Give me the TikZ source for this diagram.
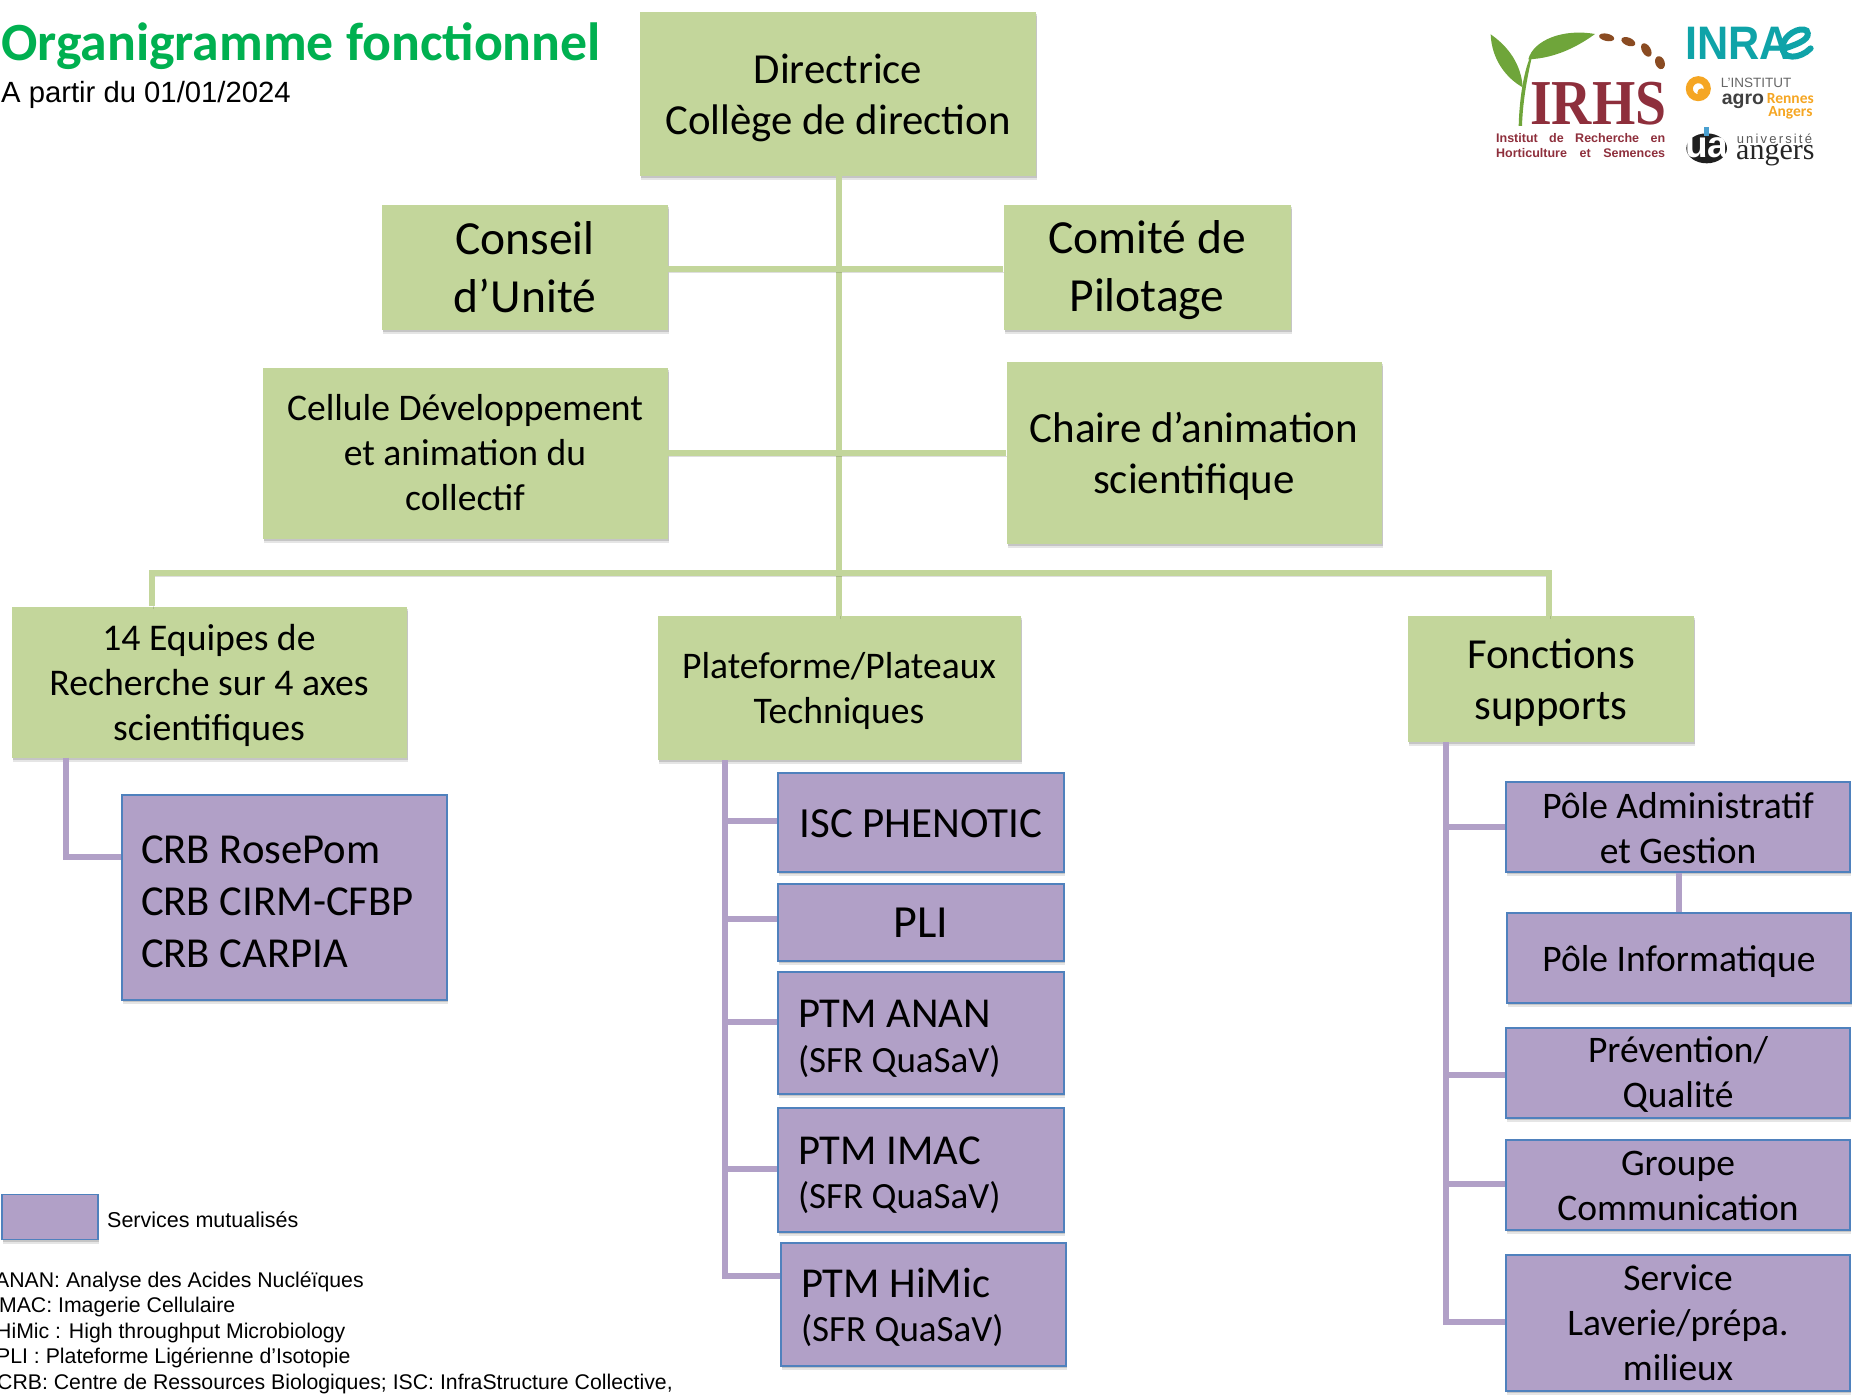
\documentclass[tikz,border=0pt]{standalone}
\usepackage{fontspec}
\setmainfont{Carlito}
\newfontfamily\arialf{Liberation Sans}
\newfontfamily\timesf{Liberation Serif}
\usetikzlibrary{shadows}
\definecolor{gfill}{HTML}{C3D69B}
\definecolor{pfill}{HTML}{B1A0C7}
\definecolor{pedge}{HTML}{4F81BD}
\definecolor{titleg}{HTML}{00B050}
\definecolor{maroon}{HTML}{8E2F3C}
\definecolor{leafg}{HTML}{6FA53A}
\definecolor{seed}{HTML}{8A4B22}
\definecolor{teal}{HTML}{0FA3A8}
\definecolor{agroo}{HTML}{F5A623}
\definecolor{uablue}{HTML}{4AA0D0}
\newcommand{\fs}[2]{\fontsize{#1}{#2}\selectfont}
\newcommand{\dn}[1]{\rule{0pt}{#1pt}}
\newcommand{\sm}[1]{{\fontsize{37}{44.5}\selectfont #1}}
\tikzset{
  x=1pt,y=-1pt,
  shd/.style={general shadow={shadow xshift=1pt,shadow yshift=-4pt,fill=black,opacity=.10},general shadow={shadow xshift=1pt,shadow yshift=-2pt,fill=black,opacity=.14}},
  lshd/.style={general shadow={shadow xshift=1pt,shadow yshift=-3pt,draw=black,fill=none,opacity=.13}},
  gbox/.style={shape=rectangle,fill=gfill,inner sep=0pt,align=center,shd},
  pbox/.style={shape=rectangle,fill=pfill,draw=pedge,line width=1.6pt,inner sep=0pt,align=center,shd},
  size/.style 2 args={minimum width=#1,minimum height=#2},
  gline/.style={draw=gfill,line width=6pt,lshd},
  pline/.style={draw=pfill,line width=6pt},
  lab/.style={anchor=west,inner sep=0pt,font=\arialf\fs{21.25}{26}},
}
\begin{document}
\begin{tikzpicture}
\useasboundingbox (0,0) rectangle (1855,1397);
\coordinate (bus) at (839,573);
\coordinate (busL) at (152,573);
\coordinate (busR) at (1549,573);
\coordinate (tA) at (839,269);
\coordinate (tB) at (839,453);
% green boxes
\node[gbox,size={396pt}{164pt},font=\fs{42.8}{51}] (dir) at (838,94) {\dn{37}Directrice\\Collège de direction};
\node[gbox,size={286pt}{125pt},font=\fs{47.5}{58}] (cons) at (525,267) {Conseil\\d’Unité};
\node[gbox,size={287pt}{125pt},font=\fs{47.5}{58}] (comi) at (1147,267) {\dn{39}Comité de\\Pilotage};
\node[gbox,size={405pt}{171pt},font=\fs{37.6}{45}] (cell) at (465,453) {Cellule Développement\\et animation du\\collectif};
\node[gbox,size={375pt}{182pt},font=\fs{43}{51}] (chai) at (1194,453) {\dn{37}Chaire d’animation\\scientifique};
\node[gbox,size={395pt}{151pt},font=\fs{37.7}{45}] (equi) at (209,682) {\dn{33}14 Equipes de\\Recherche sur 4 axes\\scientifiques};
\node[gbox,size={363pt}{144pt},font=\fs{37.6}{45}] (plat) at (839,688) {\dn{33}Plateforme/Plateaux\\Techniques};
\node[gbox,size={286pt}{126pt},font=\fs{42.8}{51}] (fonc) at (1551,679) {\dn{37}Fonctions\\supports};
% green connectors
\draw[gline] (dir.south -| bus) -- (plat.north -| bus);
\draw[gline] (cons.east |- tA) -- (comi.west |- tA);
\draw[gline] (cell.east |- tB) -- (chai.west |- tB);
\draw[gline] (busL |- equi.north) -- (busL) -- (busR) -- (busR |- fonc.north);
% purple boxes
\node[pbox,size={325pt}{205pt},text width=325pt,align=flush left,font=\fs{42.7}{52}] (crb) at (284.5,897.5) {\hspace*{19pt}\dn{36}CRB RosePom\\\hspace*{19pt}CRB CIRM-CFBP\\\hspace*{19pt}CRB CARPIA};
\node[pbox,size={286pt}{99pt},font=\fs{43}{50}] (isc) at (921,822.5) {\dn{30}ISC PHENOTIC};
\node[pbox,size={286pt}{77pt},font=\fs{46}{50}] (pli) at (921,922.5) {PLI};
\node[pbox,size={286pt}{122pt},text width=286pt,align=flush left,font=\fs{42.6}{44.5}] (anan) at (921,1033) {\hspace*{20pt}\dn{39}PTM ANAN\\\hspace*{20pt}\sm{(SFR QuaSaV)}};
\node[pbox,size={286pt}{124pt},text width=286pt,align=flush left,font=\fs{42.6}{44.5}] (imac) at (921,1170) {\hspace*{20pt}\dn{38}PTM IMAC\\\hspace*{20pt}\sm{(SFR QuaSaV)}};
\node[pbox,size={285pt}{123pt},text width=285pt,align=flush left,font=\fs{42.6}{44.5}] (himi) at (923.5,1304.5) {\hspace*{20pt}\dn{35}PTM HiMic\\\hspace*{20pt}\sm{(SFR QuaSaV)}};
\node[pbox,size={344pt}{90pt},font=\fs{37.5}{45}] (padm) at (1678,827) {\dn{29}Pôle Administratif\\et Gestion};
\node[pbox,size={344pt}{90pt},font=\fs{37.5}{45}] (pinf) at (1679,958) {\dn{33}Pôle Informatique};
\node[pbox,size={344pt}{90pt},font=\fs{37.5}{45}] (prev) at (1678,1073) {\dn{29}Prévention/\\Qualité};
\node[pbox,size={344pt}{90pt},font=\fs{37.5}{45}] (grou) at (1678,1185) {\dn{26}Groupe\\Communication};
\node[pbox,size={344pt}{136pt},font=\fs{37.5}{45}] (serv) at (1678,1323) {\dn{26}Service\\Laverie/prépa.\\milieux};
% purple connectors
\coordinate (qx) at (66,857);
\draw[pline] (qx |- equi.south) -- (qx) -- (qx -| crb.west);
\coordinate (p1) at (725,821);
\coordinate (p2) at (725,919);
\coordinate (p3) at (725,1022);
\coordinate (p4) at (725,1169);
\coordinate (p5) at (725,1276);
\draw[pline] (p1 |- plat.south) -- (p5) -- (p5 -| himi.west);
\draw[pline] (p1) -- (p1 -| isc.west);
\draw[pline] (p2) -- (p2 -| pli.west);
\draw[pline] (p3) -- (p3 -| anan.west);
\draw[pline] (p4) -- (p4 -| imac.west);
\coordinate (f1) at (1446,827);
\coordinate (f2) at (1446,1075);
\coordinate (f3) at (1446,1184);
\coordinate (f4) at (1446,1322);
\draw[pline] (f1 |- fonc.south) -- (f4) -- (f4 -| serv.west);
\draw[pline] (f1) -- (f1 -| padm.west);
\draw[pline] (f2) -- (f2 -| prev.west);
\draw[pline] (f3) -- (f3 -| grou.west);
\draw[pline] (padm.south -| pinf) -- (pinf.north);
% titles
\node[anchor=west,inner sep=0pt,text=titleg,font=\bfseries\fs{53.8}{60}] (titl) at (1,46) {Organigramme fonctionnel};
\node[anchor=west,inner sep=0pt,font=\arialf\fs{29.25}{34}] (date) at (1,95) {A partir du 01/01/2024};
% legend
\node[pbox,size={96pt}{45pt}] (lege) at (50,1217) {};
\node[lab,font=\arialf\fs{21.5}{26}] (legt) at (107,1220) {Services mutualisés};
\node[lab] (l1) at (-5,1282) {ANAN: Analyse des Acides Nucléïques};
\node[lab] (l2) at (-7,1307) {IMAC: Imagerie Cellulaire};
\node[lab] (l3) at (-4,1333) {HiMic : High throughput Microbiology};
\node[lab] (l4) at (-4,1358) {PLI : Plateforme Ligérienne d’Isotopie};
\node[lab] (l5) at (-3,1384) {CRB: Centre de Ressources Biologiques; ISC: InfraStructure Collective,};
% logos
\begin{scope}[shift={(1450,0)},x=.3333pt,y=-.3333pt]
  \fill[leafg] (122,103) .. controls (190,150) and (215,210) .. (218,262) .. controls (170,235) and (125,180) .. (122,103) -- cycle;
  \fill[leafg] (235,178) .. controls (250,120) and (340,85) .. (435,102) .. controls (390,135) and (320,175) .. (235,178) -- cycle;
  \fill[leafg] (206,378) .. controls (208,300) and (220,220) .. (240,172) -- (244,178) .. controls (230,240) and (218,310) .. (216,378) -- cycle;
  \fill[seed] (470,112) ellipse [x radius=23,y radius=11,rotate=-12];
  \fill[seed] (535,125) ellipse [x radius=22,y radius=12,rotate=-22];
  \fill[seed] (589,150) ellipse [x radius=22,y radius=13,rotate=-60];
  \fill[seed] (630,188) ellipse [x radius=20,y radius=14,rotate=-70];
  \node[inner sep=0pt,text=maroon,font=\timesf\bfseries\fs{64}{64},xscale=.87] (irhs) at (445,310) {IRHS};
  \node[inner sep=0pt,text=maroon,text width=169pt,font=\arialf\bfseries\fs{12.5}{15.5}] (irh1) at (392,436) {Institut\hfill de\hfill Recherche\hfill en\\Horticulture\hfill et\hfill Semences};
  \node[anchor=west,inner sep=0pt,text=teal,font=\arialf\bfseries\fs{47}{47},xscale=.92] (inra) at (706,130) {INRA};
  \draw[teal,line width=6pt,line cap=round] (1005,145) .. controls (1050,130) and (1085,115) .. (1070,92) .. controls (1050,78) and (1000,105) .. (998,140) .. controls (995,180) and (1050,178) .. (1082,145);
  \draw[agroo,line width=7pt] (745,266) circle [radius=27];
  \fill[agroo] (755,278) circle [radius=13];
  \node[anchor=west,inner sep=0pt,text=black!60,font=\arialf\fs{13.5}{15}] (agr1) at (812,250) {L’INSTITUT};
  \node[anchor=west,inner sep=0pt,text=black!75,font=\arialf\bfseries\fs{19.5}{20}] (agr2) at (815,303) {agro};
  \node[anchor=east,inner sep=0pt,text=agroo,font=\bfseries\fs{15.5}{17}] (agr3) at (1092,295) {Rennes};
  \node[anchor=east,inner sep=0pt,text=agroo,font=\bfseries\fs{15.5}{17}] (agr4) at (1088,338) {Angers};
  \fill[black!88] (770,445) ellipse [x radius=61,y radius=45];
  \fill[uablue] (762,380) rectangle (776,408);
  \node[inner sep=0pt,text=white,font=\arialf\bfseries\fs{37}{37}] (uaua) at (770,442) {ua};
  \node[anchor=west,inner sep=0pt,text=black!65,font=\arialf\fs{13}{14}] (univ) at (860,416) {u\,n\,i\,v\,e\,r\,s\,i\,t\,é};
  \node[anchor=west,inner sep=0pt,text=black!85,font=\timesf\fs{30}{30}] (ange) at (858,465) {angers};
\end{scope}
\end{tikzpicture}
\end{document}
